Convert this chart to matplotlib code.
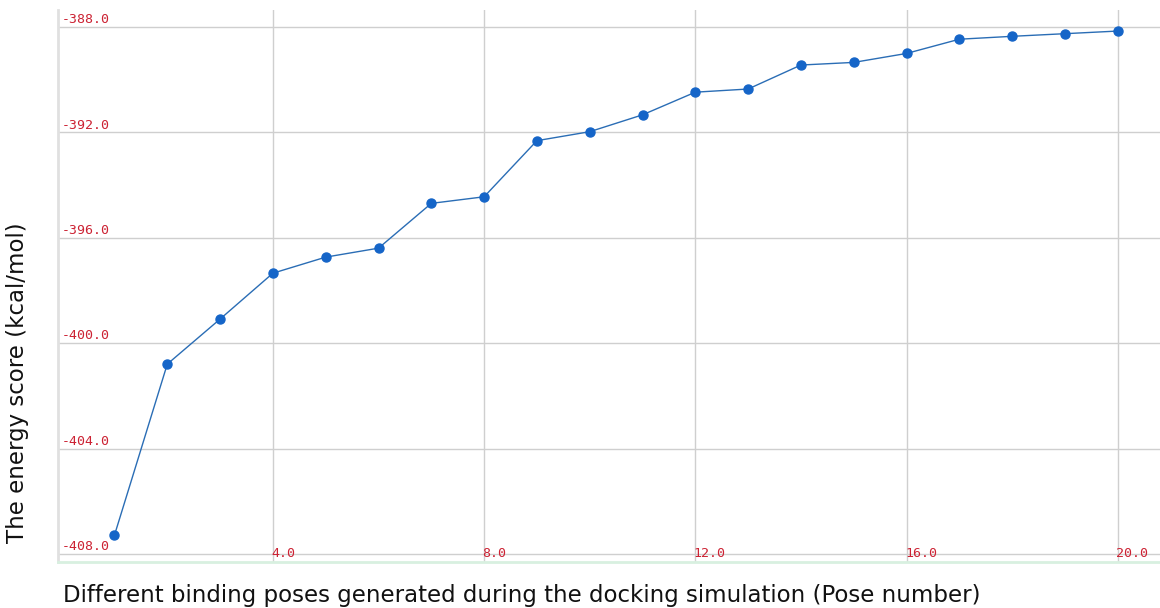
import matplotlib
matplotlib.use("Agg")
import matplotlib.pyplot as plt
import matplotlib.transforms as mtransforms

# energy score for each docking pose
poses = list(range(1, 21))
scores = [-407.28, -400.79, -399.08, -397.34, -396.73, -396.39, -394.69,
          -394.44, -392.31, -391.97, -391.33, -390.47, -390.35, -389.44,
          -389.34, -389.00, -388.46, -388.35, -388.25, -388.15]

xticks = [4.0, 8.0, 12.0, 16.0, 20.0]
yticks = [-408.0, -404.0, -400.0, -396.0, -392.0, -388.0]

fig = plt.figure(figsize=(11.6, 6.08), dpi=100)
ax = fig.add_axes([0.05, 0.0757, 0.95, 0.9079])

ax.plot(poses, scores, color="#2a6db5", lw=1.0, marker="o", ms=6.5,
        markerfacecolor="#1565c8", markeredgecolor="#1565c8")

ax.set_xlim(-0.07, 20.8)
ax.set_ylim(-408.3, -387.35)
ax.set_xticks(xticks)
ax.set_yticks(yticks)
ax.tick_params(length=0, labelbottom=False, labelleft=False)
ax.grid(True, color="#cfcfcf", lw=1.0)
ax.set_axisbelow(True)

for s in ["top", "right"]:
    ax.spines[s].set_visible(False)
ax.spines["left"].set_color("#e0e0e0")
ax.spines["left"].set_linewidth(2)
ax.spines["bottom"].set_color("#d8f0e0")
ax.spines["bottom"].set_linewidth(2)

red = "#cc2233"
ytr = mtransforms.blended_transform_factory(ax.transAxes, ax.transData)
for v in yticks:
    ax.text(0.003, v + 0.03, "%.1f" % v, transform=ytr, color=red,
            fontsize=9.5, family="DejaVu Sans Mono", ha="left", va="bottom")
xtr = mtransforms.blended_transform_factory(ax.transData, ax.transAxes)
for v in xticks:
    ax.text(v - 0.03, 0.0145, "%.1f" % v, transform=xtr, color=red,
            fontsize=9.5, family="DejaVu Sans Mono", ha="left", va="center")

fig.text(0.0155, 0.37, "The energy score (kcal/mol)", rotation=90,
         fontsize=16.5, ha="center", va="center", color="#111111")
fig.text(0.054, 0.02, "Different binding poses generated during the docking simulation (Pose number)",
         fontsize=16.5, ha="left", va="center", color="#111111")

fig.savefig("out.png", dpi=100)
